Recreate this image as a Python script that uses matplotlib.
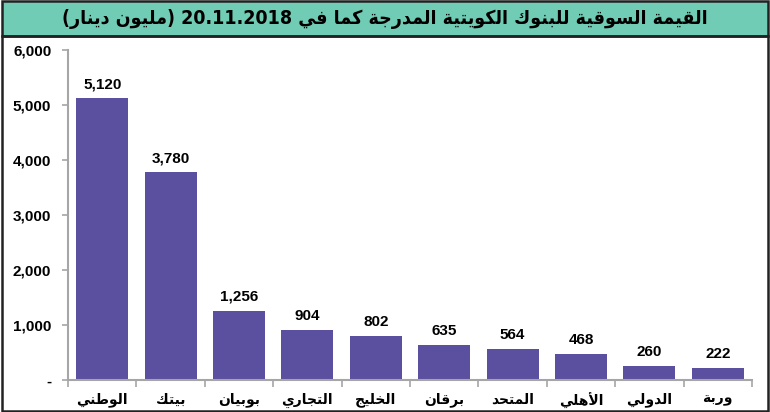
import matplotlib
matplotlib.use("Agg")
import matplotlib.pyplot as plt
from matplotlib.patches import Rectangle
from matplotlib.ticker import FuncFormatter, FixedLocator

title = "القيمة السوقية للبنوك الكويتية المدرجة كما في 20.11.2018 (مليون دينار)"
banks = ["الوطني", "بيتك", "بوبيان", "التجاري", "الخليج",
         "برقان", "المتحد", "الأهلي", "الدولي", "وربة"]
values = [5120, 3780, 1256, 904, 802, 635, 564, 468, 260, 222]
yticks = [0, 1000, 2000, 3000, 4000, 5000, 6000]

BAR = "#5B4F9F"
GREEN = "#70CCB4"
GREY = "#A6A6A6"

# matplotlib has no Arabic shaping: map letters to presentation forms
# (isolated, final, initial, medial) and reverse for right-to-left.
FORMS = {
    "ا": ("\uFE8D", "\uFE8E", None, None),
    "أ": ("\uFE83", "\uFE84", None, None),
    "ب": ("\uFE8F", "\uFE90", "\uFE91", "\uFE92"),
    "ة": ("\uFE93", "\uFE94", None, None),
    "ت": ("\uFE95", "\uFE96", "\uFE97", "\uFE98"),
    "ج": ("\uFE9D", "\uFE9E", "\uFE9F", "\uFEA0"),
    "ح": ("\uFEA1", "\uFEA2", "\uFEA3", "\uFEA4"),
    "خ": ("\uFEA5", "\uFEA6", "\uFEA7", "\uFEA8"),
    "د": ("\uFEA9", "\uFEAA", None, None),
    "ر": ("\uFEAD", "\uFEAE", None, None),
    "س": ("\uFEB1", "\uFEB2", "\uFEB3", "\uFEB4"),
    "ط": ("\uFEC1", "\uFEC2", "\uFEC3", "\uFEC4"),
    "ف": ("\uFED1", "\uFED2", "\uFED3", "\uFED4"),
    "ق": ("\uFED5", "\uFED6", "\uFED7", "\uFED8"),
    "ك": ("\uFED9", "\uFEDA", "\uFEDB", "\uFEDC"),
    "ل": ("\uFEDD", "\uFEDE", "\uFEDF", "\uFEE0"),
    "م": ("\uFEE1", "\uFEE2", "\uFEE3", "\uFEE4"),
    "ن": ("\uFEE5", "\uFEE6", "\uFEE7", "\uFEE8"),
    "ه": ("\uFEE9", "\uFEEA", "\uFEEB", "\uFEEC"),
    "و": ("\uFEED", "\uFEEE", None, None),
    "ي": ("\uFEF1", "\uFEF2", "\uFEF3", "\uFEF4"),
}
LAM_ALEF = {"ا": ("\uFEFB", "\uFEFC"), "أ": ("\uFEF7", "\uFEF8")}


def shape(word):
    out = []
    i, n = 0, len(word)
    while i < n:
        c = word[i]
        if c not in FORMS:
            out.append(c)
            i += 1
            continue
        prev = word[i - 1] if i > 0 else None
        joins_prev = prev in FORMS and FORMS[prev][2] is not None
        if c == "ل" and i + 1 < n and word[i + 1] in LAM_ALEF:
            iso, fin = LAM_ALEF[word[i + 1]]
            out.append(fin if joins_prev else iso)
            i += 2
            continue
        nxt = word[i + 1] if i + 1 < n else None
        joins_next = FORMS[c][2] is not None and nxt in FORMS
        iso, fin, ini, med = FORMS[c]
        if joins_prev and joins_next:
            out.append(med)
        elif joins_prev:
            out.append(fin)
        elif joins_next:
            out.append(ini)
        else:
            out.append(iso)
        i += 1
    return "".join(out)


def rtl(text):
    words = []
    for w in reversed(text.split(" ")):
        if any(ch in FORMS for ch in w):
            w = shape(w)[::-1].translate(str.maketrans("()", ")("))
        words.append(w)
    return " ".join(words)


plt.rcParams["font.family"] = ["Liberation Sans", "DejaVu Sans"]
plt.rcParams["font.weight"] = "bold"

fig = plt.figure(figsize=(7.7, 4.12), dpi=100)

# title band and frame
fig.patches.append(Rectangle((0.002, 0.912), 0.996, 0.085, transform=fig.transFigure,
                             facecolor=GREEN, edgecolor="#222222", linewidth=1.8))
fig.patches.append(Rectangle((0.002, 0.003), 0.996, 0.909, transform=fig.transFigure,
                             facecolor="none", edgecolor="#222222", linewidth=1.8))
fig.text(0.5, 0.954, rtl(title), ha="center", va="center", fontsize=14,
         fontweight="bold", family=["DejaVu Sans"], fontstretch="condensed")

ax = fig.add_axes([0.0883, 0.0777, 0.8883, 0.801])
x = range(len(banks))
bars = ax.bar(x, values, width=0.76, color=BAR, zorder=2)
for b, v in zip(bars, values):
    ax.annotate(f"{v:,}", (b.get_x() + b.get_width() / 2, v), xytext=(0, 5),
                textcoords="offset points", ha="center", va="bottom",
                fontsize=11, fontweight="bold")

ax.set_xlim(-0.5, len(banks) - 0.5)
ax.set_ylim(0, 6000)
ax.set_yticks(yticks)
ax.yaxis.set_major_formatter(FuncFormatter(lambda v, p: "-" if v == 0 else f"{int(v):,}"))
ax.xaxis.set_major_locator(FixedLocator([i - 0.5 for i in range(len(banks) + 1)]))
ax.xaxis.set_major_formatter(FuncFormatter(lambda v, p: ""))
ax.xaxis.set_minor_locator(FixedLocator(list(x)))
ax.set_xticklabels([rtl(b) for b in banks], minor=True, family=["DejaVu Sans"],
                   fontsize=10, fontweight="bold")
ax.tick_params(axis="x", which="major", length=5, color=GREY, width=1.2)
ax.tick_params(axis="x", which="minor", length=0, pad=9)
ax.tick_params(axis="y", length=4, color=GREY, width=1.2, labelsize=11, pad=8)
for side in ("top", "right"):
    ax.spines[side].set_visible(False)
for side in ("left", "bottom"):
    ax.spines[side].set_color(GREY)
    ax.spines[side].set_linewidth(1.5)

fig.savefig("out.png", dpi=100)
